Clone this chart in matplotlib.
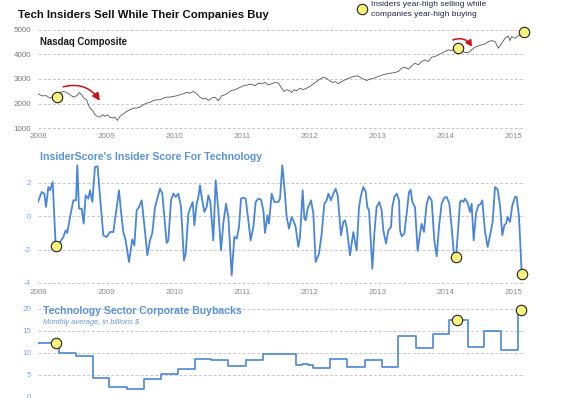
import matplotlib
matplotlib.use("Agg")
import matplotlib.pyplot as plt
import numpy as np

plt.rcParams['font.family'] = ['Liberation Sans', 'DejaVu Sans']
plt.rcParams['axes.unicode_minus'] = False

# Nasdaq Composite (decimal year, index level)
nasdaq_t = [2008.000, 2008.054, 2008.127, 2008.176, 2008.225, 2008.324, 2008.373, 2008.422,
            2008.471, 2008.520, 2008.569, 2008.608, 2008.642, 2008.676, 2008.716, 2008.740,
            2008.765, 2008.804, 2008.838, 2008.873, 2008.912, 2008.951, 2008.985, 2009.020,
            2009.059, 2009.108, 2009.132, 2009.167, 2009.206, 2009.255, 2009.304, 2009.353,
            2009.402, 2009.451, 2009.500, 2009.549, 2009.598, 2009.647, 2009.696, 2009.745,
            2009.794, 2009.843, 2009.892, 2009.941, 2009.990, 2010.039, 2010.088, 2010.137,
            2010.186, 2010.235, 2010.284, 2010.333, 2010.382, 2010.431, 2010.471, 2010.505,
            2010.554, 2010.603, 2010.652, 2010.701, 2010.750, 2010.799, 2010.848, 2010.897,
            2010.946, 2011.020, 2011.093, 2011.142, 2011.191, 2011.240, 2011.289, 2011.338,
            2011.387, 2011.436, 2011.485, 2011.534, 2011.583, 2011.618, 2011.657, 2011.696,
            2011.730, 2011.765, 2011.804, 2011.853, 2011.902, 2011.951, 2012.000, 2012.049,
            2012.098, 2012.147, 2012.196, 2012.235, 2012.284, 2012.333, 2012.368, 2012.417,
            2012.466, 2012.515, 2012.578, 2012.637, 2012.696, 2012.760, 2012.833, 2012.882,
            2012.941, 2013.005, 2013.069, 2013.127, 2013.186, 2013.250, 2013.299, 2013.348,
            2013.397, 2013.446, 2013.495, 2013.544, 2013.593, 2013.642, 2013.691, 2013.740,
            2013.789, 2013.838, 2013.887, 2013.936, 2013.985, 2014.034, 2014.083, 2014.132,
            2014.181, 2014.230, 2014.279, 2014.328, 2014.377, 2014.426, 2014.475, 2014.525,
            2014.574, 2014.623, 2014.672, 2014.721, 2014.770, 2014.819, 2014.868, 2014.917,
            2014.941, 2014.966, 2015.015, 2015.064, 2015.113, 2015.147]
nasdaq_v = [2397, 2315, 2315, 2220, 2288, 2451, 2492, 2451,
            2356, 2261, 2315, 2451, 2356, 2220, 2153, 1949,
            1814, 1719, 1542, 1475, 1447, 1542, 1475, 1542,
            1434, 1407, 1447, 1312, 1475, 1583, 1678, 1746,
            1814, 1814, 1854, 1949, 2017, 2044, 2125, 2153,
            2153, 2220, 2261, 2261, 2288, 2315, 2356, 2397,
            2451, 2424, 2492, 2397, 2261, 2180, 2220, 2125,
            2220, 2261, 2112, 2315, 2356, 2451, 2532, 2560,
            2627, 2722, 2763, 2790, 2722, 2831, 2804, 2858,
            2763, 2804, 2858, 2831, 2627, 2492, 2560, 2532,
            2451, 2560, 2519, 2627, 2560, 2627, 2695, 2804,
            2898, 2993, 3075, 3034, 2939, 2858, 2898, 2804,
            2898, 2966, 3034, 3102, 3129, 3034, 2939, 2993,
            3034, 3102, 3170, 3210, 3237, 3265, 3305, 3441,
            3481, 3400, 3536, 3644, 3576, 3712, 3780, 3712,
            3888, 3915, 3983, 4051, 4119, 4187, 4160, 4254,
            4214, 4160, 4078, 4078, 4187, 4295, 4349, 4390,
            4431, 4526, 4566, 4526, 4254, 4458, 4661, 4756,
            4566, 4729, 4661, 4756, 4837, 4932]

# InsiderScore insider score for technology
score_t = [2008.000, 2008.054, 2008.093, 2008.118, 2008.152, 2008.176, 2008.216, 2008.260,
           2008.324, 2008.373, 2008.407, 2008.431, 2008.471, 2008.520, 2008.559, 2008.578,
           2008.603, 2008.642, 2008.672, 2008.701, 2008.740, 2008.765, 2008.799, 2008.838,
           2008.877, 2008.912, 2008.961, 2009.010, 2009.059, 2009.108, 2009.157, 2009.191,
           2009.221, 2009.255, 2009.289, 2009.338, 2009.387, 2009.417, 2009.451, 2009.485,
           2009.525, 2009.574, 2009.608, 2009.647, 2009.681, 2009.721, 2009.760, 2009.794,
           2009.828, 2009.858, 2009.892, 2009.917, 2009.956, 2009.990, 2010.025, 2010.064,
           2010.103, 2010.147, 2010.172, 2010.211, 2010.245, 2010.275, 2010.299, 2010.333,
           2010.358, 2010.382, 2010.407, 2010.446, 2010.480, 2010.505, 2010.534, 2010.578,
           2010.613, 2010.652, 2010.691, 2010.725, 2010.765, 2010.799, 2010.848, 2010.887,
           2010.922, 2010.956, 2010.985, 2011.020, 2011.054, 2011.093, 2011.127, 2011.167,
           2011.201, 2011.240, 2011.279, 2011.314, 2011.338, 2011.373, 2011.397, 2011.436,
           2011.475, 2011.534, 2011.559, 2011.593, 2011.623, 2011.657, 2011.691, 2011.730,
           2011.765, 2011.789, 2011.828, 2011.853, 2011.892, 2011.917, 2011.936, 2011.966,
           2012.015, 2012.049, 2012.083, 2012.132, 2012.172, 2012.211, 2012.245, 2012.270,
           2012.309, 2012.343, 2012.377, 2012.407, 2012.456, 2012.490, 2012.515, 2012.539,
           2012.588, 2012.637, 2012.662, 2012.686, 2012.721, 2012.750, 2012.784, 2012.819,
           2012.843, 2012.868, 2012.917, 2012.946, 2012.980, 2013.020, 2013.054, 2013.078,
           2013.118, 2013.152, 2013.191, 2013.211, 2013.240, 2013.275, 2013.309, 2013.324,
           2013.348, 2013.387, 2013.422, 2013.456, 2013.480, 2013.505, 2013.544, 2013.583,
           2013.618, 2013.642, 2013.676, 2013.716, 2013.750, 2013.789, 2013.828, 2013.863,
           2013.897, 2013.936, 2013.975, 2014.010, 2014.049, 2014.083, 2014.113, 2014.147,
           2014.181, 2014.206, 2014.230, 2014.255, 2014.279, 2014.319, 2014.353, 2014.377,
           2014.407, 2014.441, 2014.475, 2014.505, 2014.534, 2014.574, 2014.613, 2014.657,
           2014.686, 2014.721, 2014.760, 2014.794, 2014.828, 2014.858, 2014.882, 2014.907,
           2014.941, 2014.975, 2015.015, 2015.039, 2015.074, 2015.113]
score_v = [0.86, 1.46, 1.36, 0.56, 1.76, 1.56, 2.06, -1.80,
           -1.54, -1.24, -0.84, -1.00, -0.04, 0.96, 0.96, 3.06,
           0.46, 0.46, -0.44, 1.26, 1.06, 1.56, 0.86, 2.96,
           3.00, 1.16, -1.14, -1.24, -0.94, -0.94, 0.56, 1.56,
           0.26, -0.94, -1.44, -2.74, -1.38, -1.74, 0.36, 0.56,
           0.96, -0.94, -2.34, -1.44, -1.00, 0.56, 1.16, 1.66,
           1.36, -0.04, -1.60, -1.44, 0.96, 1.36, 1.16, 1.36,
           0.56, -2.64, -2.24, 0.16, 0.56, 0.86, -0.54, 0.76,
           1.16, 1.86, 1.16, 0.26, 0.56, 1.26, 0.86, -1.44,
           2.16, 0.36, -2.04, -0.44, 0.76, -0.04, -3.54, -1.24,
           -1.34, -0.64, 1.06, 1.12, 1.06, -0.24, -1.44, -0.64,
           0.86, 1.06, 1.00, 0.36, -1.00, 0.06, -0.44, 1.36,
           0.86, 0.86, 1.06, 3.06, 1.76, -0.04, -0.74, -0.04,
           -0.34, -0.64, -1.84, -1.24, 1.56, -0.14, -0.24, 0.46,
           0.96, 0.16, -2.74, -2.24, -1.04, 0.76, 0.96, 1.36,
           0.96, 1.36, 1.66, 1.26, -1.14, -0.34, -0.24, -0.64,
           -2.34, -0.94, -1.54, -2.04, 0.56, 1.26, 1.76, 1.46,
           0.56, 0.36, -3.14, -1.04, 0.56, 0.86, 0.36, -0.84,
           -1.64, -0.84, -0.64, 0.56, 1.16, 1.36, 0.96, -0.84,
           -1.20, -1.04, 0.16, 1.46, 1.60, 0.86, 0.56, -2.08,
           -1.04, -0.44, -0.94, 0.76, 1.20, 0.96, -1.44, -2.40,
           -0.64, 0.76, 1.12, 1.16, 0.76, -0.64, -2.14, -2.44,
           -0.64, 0.86, 0.96, 0.86, 1.06, 0.80, 0.26, 0.76,
           -1.44, 0.16, 0.66, 0.72, 0.96, -0.94, -1.84, -0.94,
           -0.34, 1.76, 1.60, 0.66, -1.14, -0.54, -0.44, -0.04,
           -0.34, 0.66, 1.16, 1.16, -0.04, -3.44]

# Technology sector corporate buybacks, monthly average in billions $ (step starts)
buyback_t = [2008.000, 2008.314, 2008.569, 2008.814, 2009.059, 2009.319, 2009.574, 2009.828,
             2010.088, 2010.343, 2010.578, 2010.833, 2011.093, 2011.353, 2011.598, 2011.843,
             2011.926, 2012.025, 2012.098, 2012.343, 2012.603, 2012.873, 2013.127, 2013.363,
             2013.623, 2013.880, 2014.118, 2014.402, 2014.637, 2014.892, 2015.147]
buyback_v = [12.2, 9.9, 9.2, 4.35, 2.3, 1.75, 4.0, 5.3,
             6.3, 8.55, 8.4, 7.1, 8.3, 9.8, 9.7, 7.25,
             7.6, 7.25, 6.5, 8.55, 6.7, 8.3, 6.7, 13.9,
             11.2, 14.3, 17.6, 11.3, 14.9, 10.7, 19.8]

# highlighted points: insiders year-high selling while companies year-high buying
hl_nasdaq_t = [2008.275, 2014.181, 2015.147]
hl_nasdaq_v = [2261, 4254, 4932]
hl_score_t = [2008.260, 2014.147, 2015.113]
hl_score_v = [-1.80, -2.44, -3.44]
hl_buy_t = [2008.275, 2014.240, 2015.190]
hl_buy_v = [12.2, 17.6, 19.8]

years = list(range(2008, 2016))

W, H = 569, 398
fig = plt.figure(figsize=(W / 100, H / 100), dpi=100)

xl = (2008, 2008 + 487 / 68)
left, width = 38 / W, 487 / W
grid_kw = dict(color='#c8c8c8', linestyle=(0, (3, 2)), linewidth=0.7)
blue = '#4a86d8'
lblue = '#7fa8e0'
yellow = '#f6f27c'


def style(ax, ylabel_color):
    for s in ax.spines.values():
        s.set_visible(False)
    ax.set_xlim(*xl)
    ax.grid(axis='y', **grid_kw)
    ax.set_axisbelow(True)
    ax.tick_params(length=0, labelsize=5.8)
    ax.tick_params(axis='y', colors=ylabel_color, pad=5)
    ax.tick_params(axis='x', colors='#8a8a8a', pad=2)
    ax.set_xticks(years)


# top: Nasdaq
ax1 = fig.add_axes([left, 267.5 / H, width, 105.5 / H])
style(ax1, '#7a7a7a')
ax1.set_ylim(900, 5200)
ax1.set_yticks([1000, 2000, 3000, 4000, 5000])
ax1.plot(nasdaq_t, nasdaq_v, color='#555555', lw=0.6)
ax1.plot(hl_nasdaq_t, hl_nasdaq_v, 'o', ms=7.5, mfc=yellow, mec='#222222', mew=0.8, clip_on=False)
ax1.text(0.004, 0.84, 'Nasdaq Composite', transform=ax1.transAxes, fontsize=6.9,
         fontweight='bold', color='#1a1a1a', va='center')
ax1.annotate('', xy=(2008.91, 2110), xytext=(2008.37, 2680),
             arrowprops=dict(arrowstyle='-|>,head_width=0.22,head_length=0.45', color='#cc1111',
                             lw=1.1, shrinkA=0, shrinkB=0, connectionstyle='arc3,rad=-0.35'))
ax1.annotate('', xy=(2014.38, 4320), xytext=(2014.10, 4590),
             arrowprops=dict(arrowstyle='-|>,head_width=0.2,head_length=0.35', color='#cc1111',
                             lw=1.1, shrinkA=0, shrinkB=0, connectionstyle='arc3,rad=-0.4'))

# middle: insider score
ax2 = fig.add_axes([left, 111.7 / H, width, 123.3 / H])
style(ax2, lblue)
ax2.set_ylim(-4.2, 3.2)
ax2.set_yticks([-4, -2, 0, 2])
ax2.plot(score_t, score_v, color=blue, lw=1.3)
ax2.plot(hl_score_t, hl_score_v, 'o', ms=7.5, mfc=yellow, mec='#222222', mew=0.8, clip_on=False)

# bottom: buybacks
ax3 = fig.add_axes([left, 0.6 / H, width, 92.8 / H])
style(ax3, lblue)
ax3.set_xlim(xl[0], 2015.25)
ax3.set_ylim(-0.1, 21)
ax3.set_yticks([0, 5, 10, 15, 20])
ax3.tick_params(axis='x', labelbottom=False)
ax3.plot(buyback_t, buyback_v, color=blue, lw=1.2, drawstyle='steps-post')
ax3.plot(hl_buy_t, hl_buy_v, 'o', ms=7.5, mfc=yellow, mec='#222222', mew=0.8, clip_on=False)

# titles
fig.text(18 / W, 1 - 15 / H, 'Tech Insiders Sell While Their Companies Buy', fontsize=8.2,
         fontweight='bold', color='#111111', va='center')
fig.text(40 / W, 1 - 157 / H, "InsiderScore's Insider Score For Technology", fontsize=7.6,
         fontweight='bold', color='#5b93dc', va='center')
fig.text(43 / W, 1 - 311 / H, 'Technology Sector Corporate Buybacks', fontsize=7.55,
         fontweight='bold', color='#5b93dc', va='center')
fig.text(43 / W, 1 - 322 / H, 'Monthly average, in billions $', fontsize=5.45,
         style='italic', color='#6a9ad8', va='center')

# legend
ax1.plot([362 / W], [1 - 9 / H], 'o', ms=7.5, mfc=yellow, mec='#222222', mew=0.8,
         transform=fig.transFigure, clip_on=False)
fig.text(371 / W, 1 - 5 / H, 'Insiders year-high selling while',
         fontsize=6, color='#1f2a44', va='center')
fig.text(371 / W, 1 - 14 / H, 'companies year-high buying',
         fontsize=6, color='#1f2a44', va='center')

fig.savefig('out.png', dpi=100)
